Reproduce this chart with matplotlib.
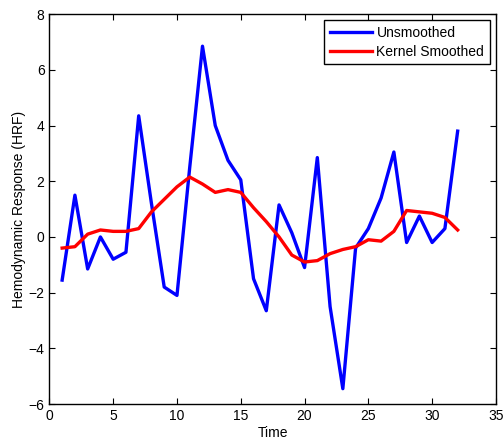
import matplotlib
matplotlib.use("Agg")
import matplotlib.pyplot as plt

plt.rcParams['font.family'] = ['Liberation Sans', 'DejaVu Sans']

time = list(range(1, 33))
unsmoothed = [-1.55, 1.5, -1.15, 0.0, -0.8, -0.55, 4.35, 1.2, -1.8, -2.1,
              2.5, 6.85, 4.0, 2.75, 2.05, -1.5, -2.65, 1.15, 0.15, -1.1,
              2.85, -2.5, -5.45, -0.4, 0.3, 1.4, 3.05, -0.2, 0.75, -0.2,
              0.3, 3.8]
smoothed = [-0.4, -0.35, 0.1, 0.25, 0.2, 0.2, 0.3, 0.9, 1.35, 1.8,
            2.15, 1.9, 1.6, 1.7, 1.6, 1.05, 0.55, 0.0, -0.65, -0.9,
            -0.85, -0.6, -0.45, -0.35, -0.1, -0.15, 0.2, 0.95, 0.9, 0.85,
            0.7, 0.25]
xticks = [0, 5, 10, 15, 20, 25, 30, 35]
yticks = [-6, -4, -2, 0, 2, 4, 6, 8]

fig = plt.figure(figsize=(5.04, 4.43), dpi=100)
ax = fig.add_axes([0.098, 0.088, 0.886, 0.880])
ax.plot(time, unsmoothed, color='#0000ff', lw=2.4, label='Unsmoothed')
ax.plot(time, smoothed, color='#ff0000', lw=2.4, label='Kernel Smoothed')
ax.set_xlim(0, 35)
ax.set_ylim(-6, 8)
ax.set_xticks(xticks)
ax.set_yticks(yticks)
ax.tick_params(direction='in', top=True, right=True, labelsize=10, length=4, width=0.8)
for s in ax.spines.values():
    s.set_linewidth(1.0)
ax.set_xlabel('Time', fontsize=10, labelpad=2)
ax.set_ylabel('Hemodynamic Response (HRF)', fontsize=10, labelpad=2)
leg = ax.legend(loc='upper right', fontsize=10, fancybox=False, framealpha=1,
                edgecolor='black', borderaxespad=0.45, handlelength=3.0,
                borderpad=0.4, labelspacing=0.35, handletextpad=0.35)
leg.get_frame().set_linewidth(1.0)
fig.savefig('out.png', dpi=100)
